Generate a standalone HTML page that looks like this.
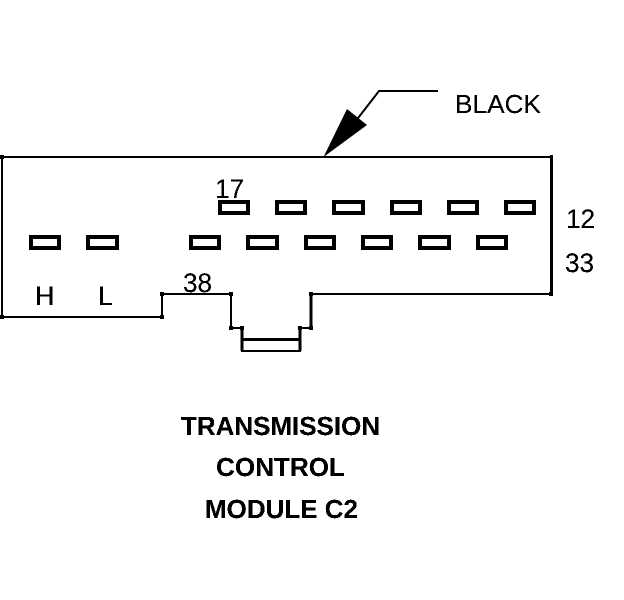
<!DOCTYPE html>
<html>
<head>
<meta charset="utf-8">
<style>
html,body{margin:0;padding:0;background:#fff;width:624px;height:600px;overflow:hidden}
svg{display:block}
text{font-family:"Liberation Sans",Arial,sans-serif;fill:#000}
.b{font-weight:bold;font-size:26px}
.n{font-size:27px}
</style>
</head>
<body>
<svg width="624" height="600" viewBox="0 0 624 600" xmlns="http://www.w3.org/2000/svg">
<defs>
<filter id="a" x="0" y="0" width="624" height="600" filterUnits="userSpaceOnUse" color-interpolation-filters="sRGB">
<feComponentTransfer><feFuncA type="discrete" tableValues="0 0 1 1 1 1"/></feComponentTransfer>
</filter>
</defs>
<rect width="624" height="600" fill="#fff"/>
<g fill="none" stroke="#000" stroke-width="2" shape-rendering="crispEdges">
<path d="M2 157H551"/>
<path d="M2 157V317H162V294H231V328H242V351H300V328H311V294H551"/>
<path d="M242 339.5H300" stroke-width="3"/>
<path d="M242 328V351M300 328V351M311 293V328M551.5 155V295" stroke-width="3"/>
</g>
<g fill="#000" shape-rendering="crispEdges">
<rect x="0" y="155" width="4" height="4"/>
<rect x="0" y="315" width="4" height="4"/>
<rect x="160" y="315" width="4" height="4"/>
<rect x="160" y="292" width="4" height="4"/>
<rect x="229" y="292" width="4" height="4"/>
<rect x="229" y="326" width="4" height="4"/>
<rect x="240" y="326" width="4" height="4"/>
<rect x="298" y="326" width="4" height="4"/>
<rect x="309" y="326" width="4" height="4"/>
<rect x="309" y="292" width="4" height="4"/>
<rect x="549" y="292" width="4" height="4"/>
</g>
<g fill="none" stroke="#000" stroke-width="4" shape-rendering="crispEdges">
<rect x="220" y="202" width="28" height="11"/>
<rect x="277" y="202" width="28" height="11"/>
<rect x="334" y="202" width="29" height="11"/>
<rect x="392" y="202" width="28" height="11"/>
<rect x="449" y="202" width="28" height="11"/>
<rect x="506" y="202" width="28" height="11"/>
<rect x="31" y="237" width="28" height="11"/>
<rect x="88" y="237" width="29" height="11"/>
<rect x="191" y="237" width="28" height="11"/>
<rect x="248" y="237" width="29" height="11"/>
<rect x="306" y="237" width="28" height="11"/>
<rect x="363" y="237" width="28" height="11"/>
<rect x="420" y="237" width="29" height="11"/>
<rect x="478" y="237" width="28" height="11"/>
</g>
<path d="M438 91H379L355 122" fill="none" stroke="#000" stroke-width="2"/>
<polygon points="323.5,157 347,109 367,125" fill="#000"/>
<g filter="url(#a)">
<text x="455" y="113" style="font-size:26px" textLength="86" lengthAdjust="spacingAndGlyphs">BLACK</text>
<text x="215" y="198" class="n" textLength="29" lengthAdjust="spacingAndGlyphs">17</text>
<text x="183" y="292" class="n" textLength="29" lengthAdjust="spacingAndGlyphs">38</text>
<text x="35" y="305" class="n">H</text>
<text x="98" y="305" class="n">L</text>
<text x="566" y="228" class="n" textLength="29" lengthAdjust="spacingAndGlyphs">12</text>
<text x="565" y="272" class="n" textLength="29" lengthAdjust="spacingAndGlyphs">33</text>
<text x="181" y="435" class="b" textLength="199" lengthAdjust="spacingAndGlyphs">TRANSMISSION</text>
<text x="216" y="476" class="b" textLength="129" lengthAdjust="spacingAndGlyphs">CONTROL</text>
<text x="205" y="518" class="b" textLength="153" lengthAdjust="spacingAndGlyphs">MODULE C2</text>
</g>
</svg>
</body>
</html>
